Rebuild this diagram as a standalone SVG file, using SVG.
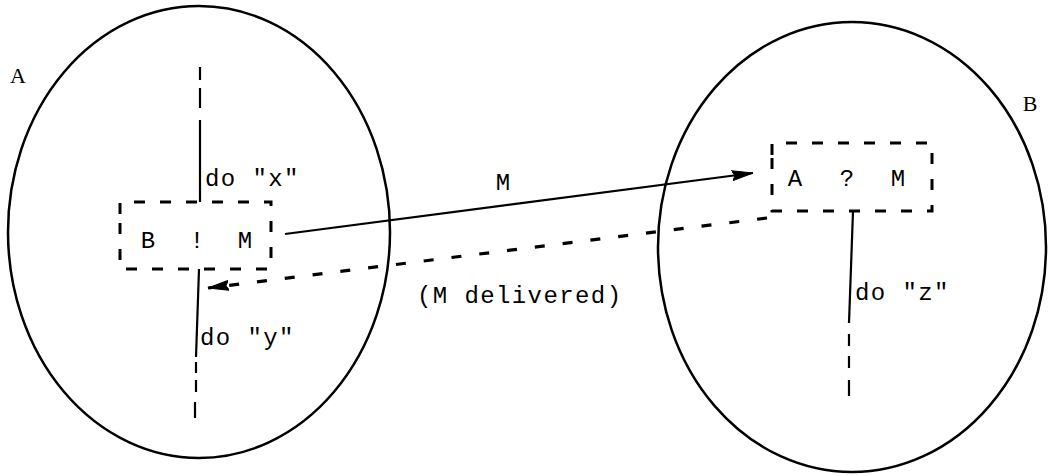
<svg xmlns="http://www.w3.org/2000/svg" width="1051" height="476" viewBox="0 0 1051 476">
<style>
.ell{fill:none;stroke:#000;stroke-width:2.5}
.ln{fill:none;stroke:#000;stroke-width:2.2}
.box{fill:none;stroke:#000;stroke-width:3;stroke-dasharray:11 15}
.dl{fill:none;stroke:#000;stroke-width:3.2;stroke-dasharray:10 18}
.t{font-family:"Liberation Mono",monospace;font-size:24px;fill:#000;letter-spacing:1.4px}
.tm{font-family:"Liberation Mono",monospace;font-size:24px;fill:#000;text-anchor:middle}
.lab{font-family:"Liberation Serif",serif;font-size:22px;fill:#000;text-anchor:middle}
</style>
<defs>
<marker id="ah" markerWidth="22" markerHeight="12" refX="21" refY="6" orient="auto" markerUnits="userSpaceOnUse">
<path d="M0,1 L21,6 L0,11 L3,6 Z" fill="#000" stroke="#000" stroke-width="1"/>
</marker>
</defs>
<g id="processA">
<ellipse class="ell" cx="199" cy="232" rx="191" ry="226"/>
<text class="lab" x="18" y="83">A</text>
</g>
<g id="processB">
<ellipse class="ell" cx="852" cy="247" rx="194" ry="225"/>
<text class="lab" x="1030" y="111">B</text>
</g>
<g id="send">
<path class="box" d="M120,214 L120,202 L271,202 L271,269 L120,269 Z"/>
<text class="tm" x="148" y="248">B</text>
<text class="tm" x="197" y="248">!</text>
<text class="tm" x="245" y="248">M</text>
</g>
<g id="receive">
<path class="box" d="M772,155 L772,143 L932,143 L932,211 L772,211 Z"/>
<text class="tm" x="795" y="186">A</text>
<text class="tm" x="847" y="186">?</text>
<text class="tm" x="898" y="186">M</text>
</g>
<g id="threadA">
<line class="ln" x1="200" y1="67" x2="200" y2="80" stroke-width="3"/>
<line class="ln" x1="200" y1="88" x2="200" y2="108" stroke-width="3"/>
<line class="ln" x1="200" y1="120" x2="200" y2="202"/>
<text class="t" x="205" y="186">do "x"</text>
<line class="ln" x1="199" y1="269" x2="196" y2="357"/>
<line class="ln" x1="196" y1="362" x2="196" y2="373" stroke-width="3"/>
<line class="ln" x1="196" y1="380" x2="196" y2="392" stroke-width="3"/>
<line class="ln" x1="195" y1="402" x2="195" y2="418" stroke-width="3"/>
<text class="t" x="200" y="345">do "y"</text>
</g>
<g id="threadB">
<line class="ln" x1="853" y1="211" x2="849" y2="323"/>
<line class="ln" x1="849" y1="334" x2="849" y2="346" stroke-width="3"/>
<line class="ln" x1="849" y1="356" x2="849" y2="368" stroke-width="3"/>
<line class="ln" x1="849" y1="380" x2="849" y2="396" stroke-width="3"/>
<text class="t" x="855" y="300">do "z"</text>
</g>
<g id="connectors">
<line class="ln" x1="285" y1="234" x2="753" y2="173" marker-end="url(#ah)"/>
<text class="tm" x="503" y="190">M</text>
<line class="dl" x1="767" y1="218" x2="208" y2="288" marker-end="url(#ah)"/>
<text class="t" x="417" y="303">(M delivered)</text>
</g>
</svg>
